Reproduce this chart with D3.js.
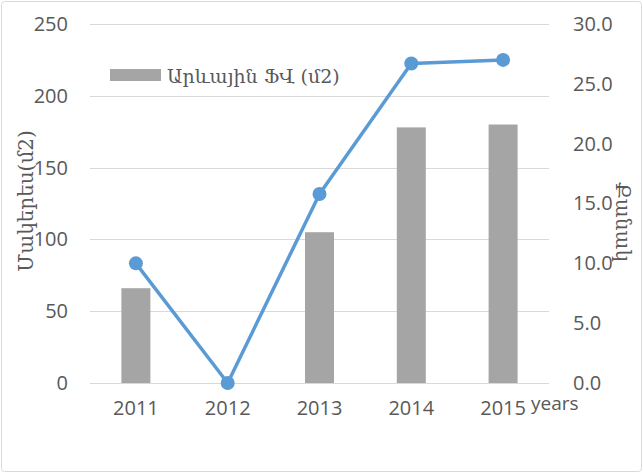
<!DOCTYPE html>
<html>
<head>
<meta charset="utf-8">
<script src="https://cdn.jsdelivr.net/npm/d3@7"></script>
<style>
  body { margin: 0; background: #fff; }
  svg { font-family: "Open Sans", sans-serif; }
  .hy { font-family: "DejaVu Serif", serif; }
</style>
</head>
<body>
<div id="chart"></div>
<script>
var years = ['2011', '2012', '2013', '2014', '2015']
var area = [66, 0, 105, 178, 180]
var count = [10, 0, 15.8, 26.7, 27]
var leftTicks = [0, 50, 100, 150, 200, 250]
var rightTicks = [0, 5, 10, 15, 20, 25, 30]

var width = 643, height = 473
var margin = {left: 90, right: 94, top: 24, bottom: 90}
var iw = width - margin.left - margin.right
var ih = height - margin.top - margin.bottom

var svg = d3.select('#chart').append('svg')
  .attr('width', width).attr('height', height)

svg.append('rect')
  .attr('x', 1.5).attr('y', 1.5)
  .attr('width', width - 3).attr('height', height - 3)
  .attr('rx', 3)
  .attr('fill', '#fff').attr('stroke', '#d9d9d9')

var g = svg.append('g').attr('transform', 'translate(' + margin.left + ',' + margin.top + ')')

var x = d3.scaleBand().domain(years).range([0, iw])
var y = d3.scaleLinear().domain([0, 250]).range([ih, 0])
var y2 = d3.scaleLinear().domain([0, 30]).range([ih, 0])

// gridlines
g.selectAll('line.grid').data(leftTicks).join('line')
  .attr('class', 'grid')
  .attr('x1', 0).attr('x2', iw)
  .attr('y1', d => Math.round(y(d)) + 0.5).attr('y2', d => Math.round(y(d)) + 0.5)
  .attr('stroke', '#d9d9d9').attr('stroke-width', 1)

// left axis labels
var yAxis = d3.axisLeft(y).tickValues(leftTicks).tickSize(0).tickPadding(22)
g.append('g').call(yAxis)
  .call(a => a.select('.domain').remove())
  .selectAll('text').attr('fill', '#595959').attr('font-size', 20)
  .attr('font-family', '"Open Sans", sans-serif')

// right axis labels
var y2Axis = d3.axisRight(y2).tickValues(rightTicks).tickSize(0).tickPadding(24).tickFormat(d3.format('.1f'))
g.append('g').attr('transform', 'translate(' + iw + ',0)').call(y2Axis)
  .call(a => a.select('.domain').remove())
  .selectAll('text').attr('fill', '#595959').attr('font-size', 20)
  .attr('font-family', '"Open Sans", sans-serif')

// x axis labels
var xAxis = d3.axisBottom(x).tickSize(0).tickPadding(18)
g.append('g').attr('transform', 'translate(0,' + ih + ')').call(xAxis)
  .call(a => a.select('.domain').remove())
  .selectAll('text').attr('fill', '#595959').attr('font-size', 20)
  .attr('font-family', '"Open Sans", sans-serif')

// bars
var bw = 29
g.selectAll('rect.bar').data(area).join('rect')
  .attr('class', 'bar')
  .attr('x', (d, i) => x(years[i]) + x.bandwidth() / 2 - bw / 2)
  .attr('y', d => y(d))
  .attr('width', bw)
  .attr('height', d => ih - y(d))
  .attr('fill', '#a5a5a5')

// line
var line = d3.line()
  .x((d, i) => x(years[i]) + x.bandwidth() / 2)
  .y(d => y2(d))
g.append('path').datum(count)
  .attr('d', line)
  .attr('fill', 'none').attr('stroke', '#5b9bd5').attr('stroke-width', 3.5)
  .attr('stroke-linejoin', 'round')
g.selectAll('circle.pt').data(count).join('circle')
  .attr('class', 'pt')
  .attr('cx', (d, i) => x(years[i]) + x.bandwidth() / 2)
  .attr('cy', d => y2(d))
  .attr('r', 7)
  .attr('fill', '#5b9bd5')

// legend
var leg = svg.append('g').attr('transform', 'translate(110,69)')
leg.append('rect').attr('width', 51).attr('height', 12).attr('fill', '#a5a5a5')
leg.append('text').attr('class', 'hy')
  .attr('x', 57).attr('y', 14)
  .attr('font-size', 19).attr('fill', '#595959')
  .text('Արևային ՖՎ (մ2)')

// axis titles
svg.append('text').attr('class', 'hy')
  .attr('transform', 'translate(33,201) rotate(-90)')
  .attr('text-anchor', 'middle')
  .attr('font-size', 20).attr('fill', '#595959')
  .text('Մակերես(մ2)')

svg.append('text').attr('class', 'hy')
  .attr('transform', 'translate(616,222) rotate(90)')
  .attr('text-anchor', 'middle')
  .attr('font-size', 20).attr('fill', '#595959')
  .text('Քանակ')

svg.append('text')
  .attr('x', 531).attr('y', 410)
  .attr('font-size', 19).attr('fill', '#595959')
  .text('years')
</script>
</body>
</html>
